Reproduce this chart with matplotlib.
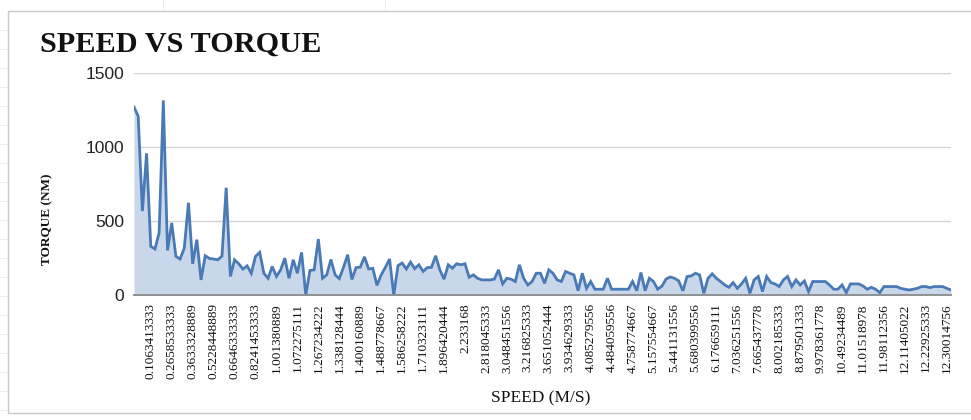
import matplotlib
matplotlib.use("Agg")
import matplotlib.pyplot as plt
from matplotlib.lines import Line2D
from matplotlib.patches import Rectangle
import numpy as np

# Torque (NM) per speed sample, in recording order
torque = [
    1270, 1208, 567, 957, 329, 311, 420, 1315, 301, 487,
    261, 243, 317, 623, 211, 374, 102, 265, 247, 243,
    238, 263, 725, 125, 238, 211, 175, 197, 147, 261,
    288, 147, 113, 193, 125, 170, 249, 113, 238, 147,
    288, 0, 166, 170, 378, 113, 136, 240, 136, 111,
    187, 272, 105, 185, 188, 258, 176, 180, 65, 136,
    187, 243, 0, 198, 216, 176, 222, 178, 204, 159,
    185, 187, 265, 170, 107, 204, 181, 211, 204, 211,
    120, 136, 113, 102, 102, 102, 107, 170, 75, 113,
    107, 91, 204, 113, 68, 91, 147, 147, 79, 170,
    147, 102, 91, 159, 147, 136, 29, 147, 45, 91,
    39, 39, 39, 113, 39, 39, 39, 39, 39, 91,
    29, 152, 29, 113, 91, 39, 60, 108, 122, 113,
    96, 28, 125, 129, 147, 136, 11, 113, 143, 113,
    91, 68, 52, 84, 45, 75, 113, 11, 102, 125,
    23, 125, 84, 75, 57, 102, 125, 57, 102, 68,
    95, 23, 91, 91, 91, 91, 68, 39, 39, 68,
    16, 75, 75, 75, 61, 39, 52, 39, 16, 57,
    57, 57, 57, 45, 39, 34, 39, 45, 57, 57,
    50, 57, 57, 57, 45, 34,
]

# Speed (M/S) values shown on the category axis, one every 5 samples
speed_labels = [
    "0.1063413333", "0.2658533333", "0.3633328889", "0.5228448889",
    "0.6646333333", "0.8241453333", "1.001380889", "1.072275111",
    "1.267234222", "1.338128444", "1.400160889", "1.488778667",
    "1.586258222", "1.710323111", "1.896420444", "2.233168",
    "2.818045333", "3.048451556", "3.216825333", "3.651052444",
    "3.934629333", "4.085279556", "4.484059556", "4.758774667",
    "5.157554667", "5.441131556", "5.680399556", "6.176659111",
    "7.036251556", "7.665437778", "8.002185333", "8.879501333",
    "9.978361778", "10.49234489", "11.01518978", "11.98112356",
    "12.11405022", "12.22925333", "12.30014756",
]
label_start = 4
label_step = 5

y_ticks = [0, 500, 1000, 1500]

W, H = 971, 420
fig = plt.figure(figsize=(W / 100, H / 100), dpi=100)
fig.patch.set_facecolor("white")

# chart-area frame and faint sheet grid around it
fig.add_artist(Rectangle((8 / W, 1 - 413 / H), 975 / W, (413 - 11) / H,
                         transform=fig.transFigure, fill=False,
                         edgecolor="#c8c8c8", linewidth=1.0))
for yy in range(30, 420, 19):
    fig.add_artist(Line2D([0, 7 / W], [1 - yy / H] * 2, transform=fig.transFigure,
                          color="#ececec", linewidth=0.7))
for xx in (163, 385):
    fig.add_artist(Line2D([xx / W] * 2, [1, 1 - 10 / H], transform=fig.transFigure,
                          color="#ececec", linewidth=0.7))

ax = fig.add_axes([134 / W, 1 - 295 / H, (951 - 134) / W, (295 - 73) / H])
x = np.arange(len(torque))

ax.fill_between(x, torque, 0, color="#c9d7ea", linewidth=0, zorder=1)
ax.plot(x, torque, color="#4a7ab5", linewidth=2.0, solid_joinstyle="miter", zorder=3)

ax.set_xlim(0, len(torque) - 1)
ax.set_ylim(0, 1500)
ax.set_yticks(y_ticks)
ax.set_yticklabels([str(v) for v in y_ticks], fontfamily="Liberation Sans",
                   fontsize=12.5, color="#222222")
ax.yaxis.grid(True, color="#d4d4d4", linewidth=1.0)
ax.set_axisbelow(True)

tick_pos = [label_start + i * label_step for i in range(len(speed_labels))]
ax.set_xticks(tick_pos)
ax.set_xticklabels(speed_labels, rotation=90, fontfamily="Liberation Serif",
                   fontsize=9.5, color="#111111")
ax.tick_params(axis="both", length=0)
ax.tick_params(axis="x", pad=6)
ax.tick_params(axis="y", pad=7)

for side in ("top", "right", "left"):
    ax.spines[side].set_visible(False)
ax.spines["bottom"].set_color("#8a8a8a")
ax.spines["bottom"].set_linewidth(1.3)
ax.spines["bottom"].set_zorder(4)

fig.text(40 / W, 1 - 44 / H, "SPEED VS TORQUE", fontfamily="Liberation Serif",
         fontweight="bold", fontsize=21.8, va="center", ha="left", color="#111111")
fig.text(47 / W, 1 - 219 / H, "TORQUE (NM)", fontfamily="Liberation Serif",
         fontweight="bold", fontsize=9.5, rotation=90, va="center", ha="center",
         color="#111111")
fig.text(541 / W, 1 - 398 / H, "SPEED (M/S)", fontfamily="Liberation Serif",
         fontsize=12.5, va="center", ha="center", color="#111111")

fig.savefig("out.png", dpi=100, facecolor="white")
